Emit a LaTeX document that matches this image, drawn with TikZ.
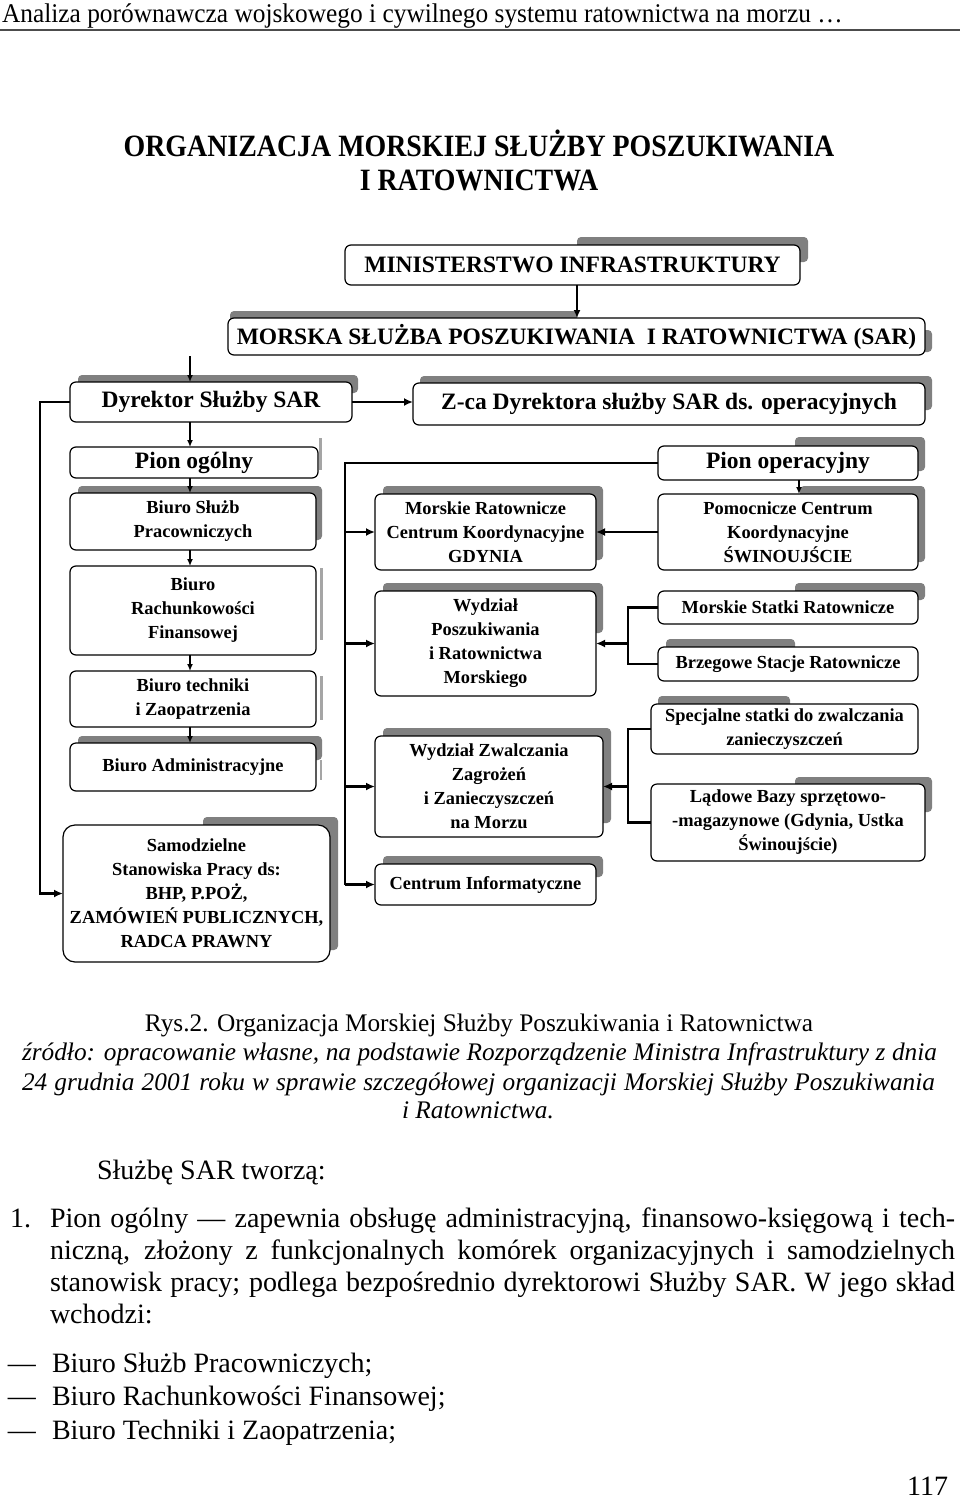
\documentclass[tikz,border=0pt]{standalone}
\usepackage{fontspec}
\setmainfont{Liberation Serif}
\newfontfamily\titlefont[FakeStretch=0.9]{Liberation Serif}
\newfontfamily\hdrfont[FakeStretch=0.94]{Liberation Serif}
\usetikzlibrary{arrows.meta,calc}
\definecolor{shad}{RGB}{128,128,128}
\definecolor{shadl}{RGB}{165,165,165}
\newcommand{\bx}[7][]{%
  \pgfmathsetmacro\bw{#5-#3}\pgfmathsetmacro\bh{#6-#4}%
  \pgfmathsetmacro\bcx{(#3+#5)/2}\pgfmathsetmacro\bcy{(#4+#6)/2}%
  \node[box,#1,minimum width=\bw pt,minimum height=\bh pt] (#2) at (\bcx,\bcy) {#7};}
\newcommand{\sh}[4]{\fill[shad, rounded corners=4pt] (#1,#3) rectangle (#2,#4);}
\newcommand{\shl}[4]{\fill[shadl] (#1,#3) rectangle (#2,#4);}
\begin{document}
\begin{tikzpicture}[x=1pt,y=-1pt,
  box/.style={draw, line width=1.2pt, rounded corners=6pt, fill=white, inner sep=0pt, outer sep=0pt, align=center, font=\bfseries\fontsize{18.4}{24}\selectfont},
  big/.style={font=\bfseries\fontsize{23.5}{26}\selectfont},
  conn/.style={line width=2.4pt},
  arr/.style={line width=2.4pt, -{Latex[length=9pt,width=8pt]}},
  sarr/.style={line width=1.5pt, -{Latex[length=7pt,width=6pt]}},
  txt/.style={inner sep=0pt, outer sep=0pt, font=\fontsize{28}{32}\selectfont},
]
\useasboundingbox (0,0) rectangle (960,1501);
\fill[white] (0,0) rectangle (960,1501);

% header
\node[txt, anchor=base west, font=\hdrfont\fontsize{27}{28}\selectfont] (hdr) at (2,23) {Analiza porównawcza wojskowego i cywilnego systemu ratownictwa na morzu …};
\draw[line width=2.5pt, black!70] (0,30) -- (960,30);

% title
\node[txt, anchor=base, font=\titlefont\bfseries\fontsize{31}{33}\selectfont] (t1) at (479,157) {ORGANIZACJA MORSKIEJ SŁUŻBY POSZUKIWANIA};
\node[txt, anchor=base, font=\titlefont\bfseries\fontsize{31}{33}\selectfont] (t2) at (479,190) {I RATOWNICTWA};

% shadows
\sh{577}{808}{237}{262}
\sh{230}{577}{311}{330}
\sh{915}{932}{330}{352}
\sh{78}{358}{375}{393}
\sh{420}{932}{376}{410}
\shl{319}{322}{438}{470}
\sh{78}{322}{486}{540}
\shl{320}{323}{568}{640}
\shl{320}{323}{676}{720}
\sh{78}{322}{736}{760}
\shl{320}{322}{760}{780}
\sh{203}{338}{817}{950}
\sh{383}{603}{486}{560}
\sh{383}{603}{583}{633}
\sh{383}{611}{728}{823}
\sh{383}{603}{856}{877}
\sh{795}{925}{437}{471}
\sh{800}{925}{486}{562}
\sh{795}{925}{583}{600}
\sh{666}{795}{639}{655}
\sh{658}{790}{696}{712}
\sh{795}{932}{777}{812}

% boxes
\bx[big]{min}{345}{245}{800}{285}{MINISTERSTWO INFRASTRUKTURY}
\bx[big]{mspir}{228}{318}{925}{355}{MORSKA SŁUŻBA POSZUKIWANIA\ \ I RATOWNICTWA (SAR)}
\bx[big]{dyr}{70}{382}{352}{422}{Dyrektor Służby SAR}
\bx[big]{zca}{413}{383}{925}{425}{Z-ca Dyrektora służby SAR ds. operacyjnych}
\bx[big]{pog}{70}{447}{318}{478}{Pion ogólny}
\bx[big]{pop}{658}{446}{918}{480}{Pion operacyjny}
\bx{bsp}{70}{493}{316}{550}{Biuro Służb\\Pracowniczych}
\bx{brf}{70}{566}{316}{655}{Biuro\\Rachunkowości\\Finansowej}
\bx{btz}{70}{671}{316}{727}{Biuro techniki\\i Zaopatrzenia}
\bx{badm}{70}{743}{316}{791}{Biuro Administracyjne}
\bx[rounded corners=12pt]{sam}{63}{825}{330}{962}{Samodzielne\\Stanowiska Pracy ds:\\BHP, P.POŻ,\\ZAMÓWIEŃ PUBLICZNYCH,\\RADCA PRAWNY}
\bx{mrck}{375}{494}{596}{570}{Morskie Ratownicze\\Centrum Koordynacyjne\\GDYNIA}
\bx{wpr}{375}{591}{596}{696}{Wydział\\Poszukiwania\\i Ratownictwa\\Morskiego}
\bx{wzz}{375}{736}{603}{837}{Wydział Zwalczania\\Zagrożeń\\i Zanieczyszczeń\\na Morzu}
\bx{ci}{375}{864}{596}{905}{Centrum Informatyczne}
\bx{pck}{658}{494}{918}{570}{Pomocnicze Centrum\\Koordynacyjne\\ŚWINOUJŚCIE}
\bx{mst}{658}{591}{918}{624}{Morskie Statki Ratownicze}
\bx{bst}{658}{647}{918}{681}{Brzegowe Stacje Ratownicze}
\bx{sst}{651}{704}{918}{754}{Specjalne statki do zwalczania\\zanieczyszczeń}
\bx{lbs}{651}{784}{925}{861}{Lądowe Bazy sprzętowo-\\-magazynowe (Gdynia, Ustka\\Świnoujście)}

% connectors
\coordinate (cA) at (577,300);
\coordinate (c1) at (190,356);
\coordinate (cL) at (40,402);
\coordinate (cM) at (345,462);
\coordinate (cP) at (799,480);
\coordinate (cB) at (628,600);
\draw[line width=2pt, -{Latex[length=8pt,width=7pt]}] (min.south -| cA) -- (mspir.north -| cA);
\draw[sarr] (c1) -- (c1 |- dyr.north);
\draw[arr] (dyr.east) -- (dyr.east -| zca.west);
\draw[arr] (dyr.west) -- (dyr.west -| cL) |- (sam.west);
\draw[sarr] (dyr.south -| c1) -- (pog.north -| c1);
\draw[sarr] (pog.south -| c1) -- (bsp.north -| c1);
\draw[sarr] (bsp.south -| c1) -- (brf.north -| c1);
\draw[sarr] (brf.south -| c1) -- (btz.north -| c1);
\draw[sarr] (btz.south -| c1) -- (badm.north -| c1);
\draw[conn] (pop.west) -- (pop.west -| cM) -- (cM |- ci.west);
\draw[arr] (cM |- mrck.west) -- (mrck.west);
\draw[arr] (cM |- wpr.west) -- (wpr.west);
\draw[arr] (cM |- wzz.west) -- (wzz.west);
\draw[arr] (cM |- ci.west) -- (ci.west);
\draw[sarr] (pop.south -| cP) -- (pck.north -| cP);
\draw[arr] (pck.west) -- (mrck.east);
\draw[conn] (mst.west) -- (mst.west -| cB) -- (bst.west -| cB) -- (bst.west);
\draw[arr] (wpr.east -| cB) -- (wpr.east);
\draw[conn] (sst.west) -- (sst.west -| cB) -- (lbs.west -| cB) -- (lbs.west);
\draw[arr] (wzz.east -| cB) -- (wzz.east);

% caption
\node[txt, anchor=base, font=\fontsize{25.3}{30}\selectfont] (cap) at (479,1031) {Rys.2. Organizacja Morskiej Służby Poszukiwania i Ratownictwa};
\node[txt, anchor=base, font=\itshape\fontsize{25.3}{30}\selectfont] (s1) at (479.5,1060) {\makebox[915pt][s]{źródło: opracowanie własne, na podstawie Rozporządzenie Ministra Infrastruktury z dnia}};
\node[txt, anchor=base, font=\itshape\fontsize{25.3}{30}\selectfont] (s2) at (478.5,1090) {\makebox[913pt][s]{24 grudnia 2001 roku w sprawie szczegółowej organizacji Morskiej Służby Poszukiwania}};
\node[txt, anchor=base, font=\itshape\fontsize{25.3}{30}\selectfont] (s3) at (478,1118) {i Ratownictwa.};

% body
\node[txt, anchor=base west] (b0) at (97,1179) {Służbę SAR tworzą:};
\node[txt, anchor=base west] (n1) at (10,1227) {1.};
\node[txt, anchor=base west] (p1) at (50,1227) {\makebox[905pt][s]{Pion ogólny — zapewnia obsługę administracyjną, finansowo-księgową i tech-}};
\node[txt, anchor=base west] (p2) at (50,1259) {\makebox[905pt][s]{niczną, złożony z funkcjonalnych komórek organizacyjnych i samodzielnych}};
\node[txt, anchor=base west] (p3) at (50,1291) {\makebox[905pt][s]{stanowisk pracy; podlega bezpośrednio dyrektorowi Służby SAR. W jego skład}};
\node[txt, anchor=base west] (p4) at (50,1323) {wchodzi:};
\node[txt, anchor=base west] (d1) at (8,1372) {—};
\node[txt, anchor=base west] (l1) at (52,1372) {Biuro Służb Pracowniczych;};
\node[txt, anchor=base west] (d2) at (8,1405) {—};
\node[txt, anchor=base west] (l2) at (52,1405) {Biuro Rachunkowości Finansowej;};
\node[txt, anchor=base west] (d3) at (8,1439) {—};
\node[txt, anchor=base west] (l3) at (52,1439) {Biuro Techniki i Zaopatrzenia;};
\node[txt, anchor=base east] (pg) at (948,1495) {117};
\end{tikzpicture}
\end{document}
